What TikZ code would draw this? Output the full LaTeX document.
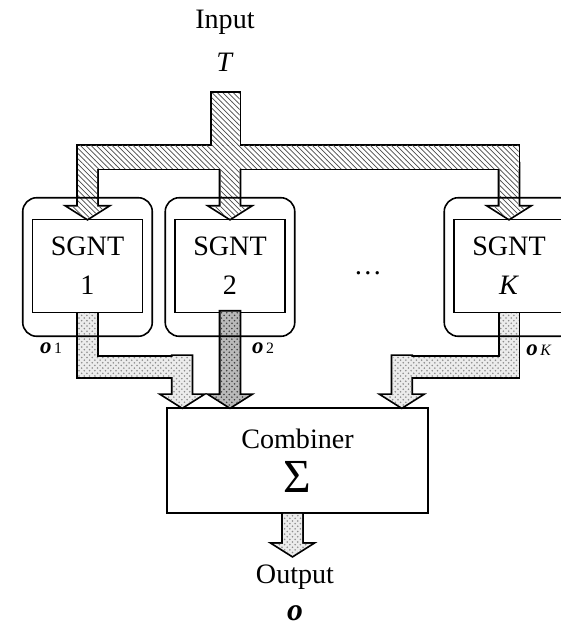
\documentclass[tikz,border=0pt]{standalone}
\usepackage{fontspec}
\setmainfont{Liberation Serif}
\usetikzlibrary{calc, patterns, positioning}

\tikzset{
  sgntbox/.style={draw, line width=0.9pt, minimum width=2.2cm, minimum height=1.86cm,
    align=center, font=\fontsize{16}{22}\selectfont},
  shell/.style={draw, line width=0.9pt, rounded corners=0.28cm},
  busedge/.style={draw, line width=2pt},
  inbus/.style={preaction={fill=white}, pattern=north west lines, pattern color=black!70},
  outbus/.style={preaction={fill=gray!15}, pattern=crosshatch dots, pattern color=black!45},
  darkbus/.style={preaction={fill=gray!55}, pattern=crosshatch dots, pattern color=black!75},
  lbl/.style={font=\fontsize{16}{18}\selectfont},
  olbl/.style={font=\fontsize{13}{14}\selectfont},
}

% shaft with arrowhead, tip at #2, shaft length #3 (pixel units)
\newcommand{\shafthead}[3]{%
  \path[#1] ($(#2)+(-9.5,-#3)$) -- ($(#2)+(-9.5,-12)$) -- ($(#2)+(-19,-12)$) -- (#2)
    -- ($(#2)+(19,-12)$) -- ($(#2)+(9.5,-12)$) -- ($(#2)+(9.5,-#3)$) -- cycle;}

% input distribution bus
\newcommand{\inputbus}[1]{%
  \path[#1] ($(tin)+(-14,0)$) rectangle ($(tin)+(13.5,60)$);
  \path[#1] ($(sgnt1.north)+(-9.5,-73)$) rectangle ($(sgntk.north)+(9.5,-50)$);
  \foreach \m in {sgnt1,sgnt2,sgntk}{\shafthead{#1}{\m.north}{55}}}

% output bus with two bends: module #2 to combiner input #3
\newcommand{\sidebus}[3]{%
  \path[#1] ($(#2.south)+(-9.5,0)$) rectangle ($(#2.south |- elbow)+(9.5,10)$);
  \path[#1] ($(#2.south |- elbow)+(0,-10)$) rectangle ($(#3 |- elbow)+(0,10)$);
  \shafthead{#1}{#3}{51}}

\newcommand{\outlab}[1]{\textbf{\textit{o}}\kern1.5pt{\fontsize{9}{9}\selectfont #1}}

\begin{document}
\begin{tikzpicture}[x=0.02cm, y=-0.02cm]
    \useasboundingbox (0,0) rectangle (561,629);
    \clip (0,0) rectangle (561,629);

    % === input label ===
    \node[lbl] (input) at (225,22) {Input};
    \node[lbl] (tsym) at (225,62) {\textit{T}};

    % === SGNT modules ===
    \node[sgntbox] (sgnt1) at (87.5,266) {SGNT\\1};
    \node[sgntbox] (sgnt2) at (230,266) {SGNT\\2};
    \node[sgntbox] (sgntk) at (509,266) {SGNT\\\textit{K}};
    \node[lbl] (dots) at (368,273) {\dots};

    % === combiner ===
    \node[draw, line width=0.9pt, minimum width=5.22cm, minimum height=2.1cm, align=center,
      font=\fontsize{16}{18}\selectfont] (combiner) at (297.5,460.5)
      {Combiner\\[7pt]{\fontsize{27}{27}\selectfont Σ}};

    \coordinate (tin) at (226,93);
    \coordinate (elbow) at (0,367);
    \coordinate (in1) at ($(combiner.north west)+(16,0)$);
    \coordinate (in2) at (sgnt2.south |- combiner.north);
    \coordinate (ink) at ($(combiner.north east)+(-27,0)$);
    \coordinate (out) at ($(combiner.south)+(-5,42)$);

    % === buses ===
    \inputbus{busedge}
    \inputbus{inbus}
    \sidebus{busedge}{sgnt1}{in1}
    \sidebus{outbus}{sgnt1}{in1}
    \sidebus{busedge}{sgntk}{ink}
    \sidebus{outbus}{sgntk}{ink}
    \shafthead{busedge}{in2}{95.5}
    \shafthead{darkbus}{in2}{95.5}
    \shafthead{busedge}{out}{42}
    \shafthead{outbus}{out}{42}

    % === module shells ===
    \foreach \m in {sgnt1,sgnt2,sgntk}
        \draw[shell] ($(\m.south west)+(-9,23)$) rectangle ($(\m.north east)+(9,-21)$);

    % === output labels ===
    \node[olbl] (o1) at (51,348) {\outlab{1}};
    \node[olbl] (o2) at (263,348) {\outlab{2}};
    \node[olbl] (ok) at (539,350) {\outlab{\textit{K}}};
    \node[lbl] (output) at (295,577) {Output};
    \node[font=\fontsize{18}{19}\selectfont] (osym) at (295,613) {\textbf{\textit{o}}};

\end{tikzpicture}
\end{document}
